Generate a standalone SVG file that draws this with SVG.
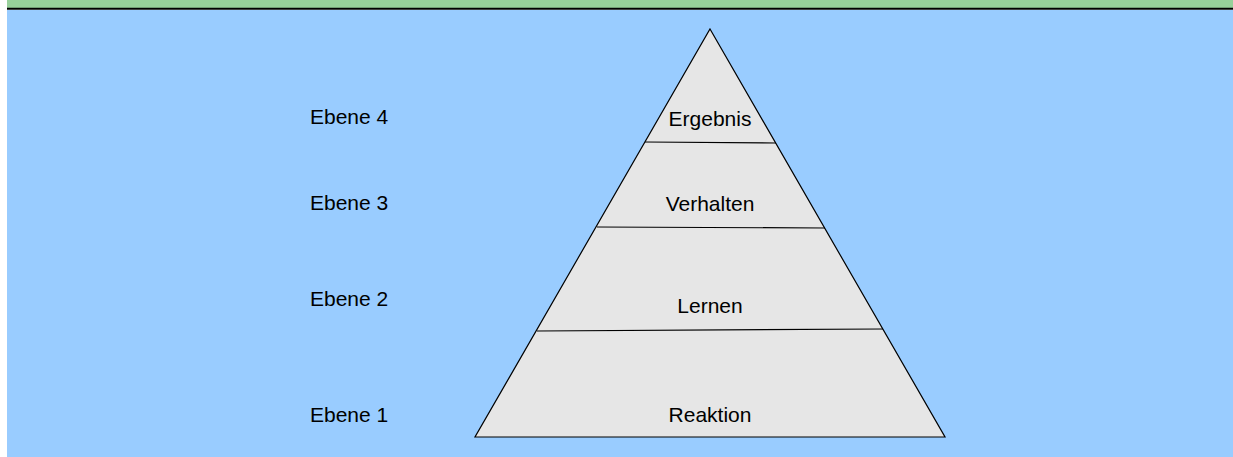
<svg xmlns="http://www.w3.org/2000/svg" width="1233" height="457" viewBox="0 0 1233 457">
<style>
.t{font-family:"Liberation Sans",Arial,sans-serif;font-size:21px;fill:#000}
.c{text-anchor:middle}
.ln{stroke:#000;stroke-width:1.2;fill:none}
</style>
<rect x="0" y="0" width="1233" height="457" fill="#ffffff"/>
<rect id="top-band" x="7" y="0" width="1226" height="8" fill="#97D09A"/>
<rect id="bg" x="7" y="10" width="1226" height="447" fill="#99CCFF"/>
<line x1="7" y1="8.7" x2="1233" y2="8.7" stroke="#000" stroke-width="2"/>
<g id="pyramid">
<polygon points="710,29 945,437 475,437" fill="#E6E6E6" stroke="#000" stroke-width="1.2" stroke-linejoin="miter"/>
</g>
<g id="connectors">
<line class="ln" x1="645" y1="142" x2="776" y2="143"/>
<line class="ln" x1="597" y1="227" x2="825" y2="228"/>
<line class="ln" x1="537" y1="331" x2="883" y2="329"/>
</g>
<g id="level4"><text class="t c" x="710" y="126">Ergebnis</text></g>
<g id="level3"><text class="t c" x="710" y="211">Verhalten</text></g>
<g id="level2"><text class="t c" x="710" y="313">Lernen</text></g>
<g id="level1"><text class="t c" x="710" y="422">Reaktion</text></g>
<g id="label4"><text class="t" x="310" y="124">Ebene 4</text></g>
<g id="label3"><text class="t" x="310" y="210">Ebene 3</text></g>
<g id="label2"><text class="t" x="310" y="306">Ebene 2</text></g>
<g id="label1"><text class="t" x="310" y="422">Ebene 1</text></g>
</svg>
